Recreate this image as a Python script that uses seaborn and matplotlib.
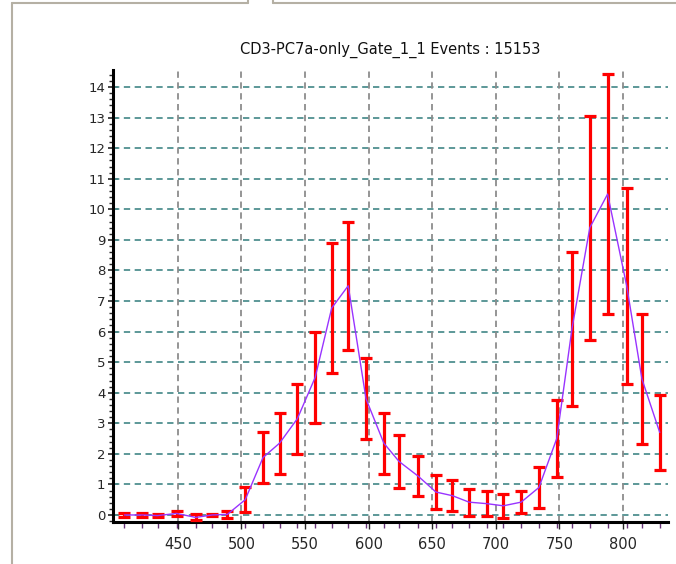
import matplotlib
matplotlib.use("Agg")
import matplotlib.pyplot as plt
from matplotlib.lines import Line2D
from matplotlib.ticker import MultipleLocator, FixedLocator
import seaborn as sns
import pandas as pd

# ---- data ----
channels = [408, 422, 434, 449, 464, 477, 489, 503, 517, 530, 544, 558, 571, 584, 598, 612,
            624, 639, 653, 666, 679, 693, 706, 720, 734, 748, 760, 774, 788, 803, 815, 829]
means = [0.0, 0.0, -0.02, 0.05, -0.08, 0.0, 0.02, 0.5, 1.88, 2.35, 3.15, 4.5, 6.77, 7.5, 3.8, 2.35,
         1.75, 1.27, 0.75, 0.63, 0.42, 0.37, 0.3, 0.42, 0.9, 2.5, 6.1, 9.4, 10.5, 7.5, 4.45, 2.7]
errors = [0.07, 0.07, 0.06, 0.07, 0.1, 0.02, 0.12, 0.4, 0.82, 1.0, 1.15, 1.5, 2.14, 2.1, 1.33, 1.0,
          0.88, 0.65, 0.56, 0.5, 0.44, 0.4, 0.4, 0.37, 0.66, 1.27, 2.52, 3.67, 3.93, 3.2, 2.13, 1.22]
xticks = [450, 500, 550, 600, 650, 700, 750, 800]
yticks = list(range(0, 15))
title = "CD3-PC7a-only_Gate_1_1 Events : 15153"

df = pd.DataFrame({"channel": channels, "mean": means, "err": errors})

sns.set_style("white")
plt.rcParams["font.family"] = ["DejaVu Sans"]

fig = plt.figure(figsize=(6.76, 5.64), dpi=100)
ax = fig.add_axes([113 / 676, 1 - 522 / 564, (668 - 113) / 676, (522 - 70) / 564])

ax.set_xlim(399, 835.5)
ax.set_ylim(-0.23, 14.56)

# grid
for yv in yticks:
    ax.axhline(yv, color="#4f9090", lw=1.3, ls=(0, (3.5, 2.5)), zorder=1)
for xv in xticks:
    ax.axvline(xv, color="#8c8c8c", lw=1.3, ls=(0, (3.5, 2.5)), zorder=1)

ax.errorbar(df["channel"], df["mean"], yerr=df["err"], fmt="none", ecolor="#ff0000",
            elinewidth=2.3, capsize=4, capthick=2.3, zorder=3)
sns.lineplot(data=df, x="channel", y="mean", ax=ax, color="#9933ff", lw=1.0,
             zorder=4, legend=False)

ax.set_xlabel("")
ax.set_ylabel("")
ax.set_title(title, fontsize=10.5, pad=12, color="#111111")

for side in ["top", "right"]:
    ax.spines[side].set_visible(False)
for side in ["left", "bottom"]:
    ax.spines[side].set_color("black")
    ax.spines[side].set_linewidth(2.2)

ax.yaxis.set_major_locator(FixedLocator(yticks))
ax.yaxis.set_minor_locator(MultipleLocator(0.2))
ax.xaxis.set_major_locator(FixedLocator(xticks))
ax.xaxis.set_minor_locator(FixedLocator(channels))
ax.tick_params(axis="y", which="major", direction="inout", length=7, width=1.2,
               labelsize=9.5, pad=2, left=True)
ax.tick_params(axis="y", which="minor", direction="out", length=3, width=1, left=True)
ax.tick_params(axis="x", which="major", direction="out", length=5, width=1,
               labelsize=10.5, pad=6, bottom=True)
ax.tick_params(axis="x", which="minor", direction="out", length=4, width=1,
               color="#663377", bottom=True)

# window frame artifacts
fc = "#b5b0a4"
fig.add_artist(Line2D([12 / 676, 12 / 676], [0, 1 - 3 / 564], transform=fig.transFigure, color=fc, lw=1.5))
fig.add_artist(Line2D([12 / 676, 248 / 676], [1 - 3 / 564, 1 - 3 / 564], transform=fig.transFigure, color=fc, lw=1.5))
fig.add_artist(Line2D([248 / 676, 248 / 676], [1, 1 - 3 / 564], transform=fig.transFigure, color=fc, lw=1.5))
fig.add_artist(Line2D([273 / 676, 1], [1 - 3 / 564, 1 - 3 / 564], transform=fig.transFigure, color=fc, lw=1.5))
fig.add_artist(Line2D([273 / 676, 273 / 676], [1, 1 - 3 / 564], transform=fig.transFigure, color=fc, lw=1.5))

fig.savefig("out.png", dpi=100)
